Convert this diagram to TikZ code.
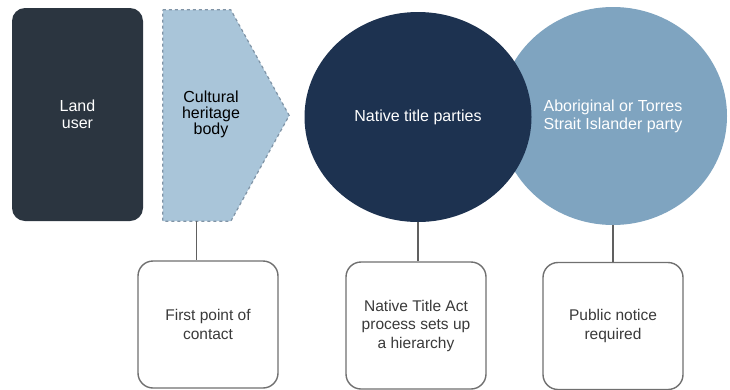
\documentclass[tikz,border=0pt]{standalone}
\usepackage{fontspec}
\setmainfont{Liberation Sans}
\usetikzlibrary{shapes.geometric}
\definecolor{landcol}{HTML}{2B3540}
\definecolor{chfill}{HTML}{A9C5D9}
\definecolor{chline}{HTML}{8094A6}
\definecolor{ntcol}{HTML}{1D3250}
\definecolor{atcol}{HTML}{7FA4C0}
\definecolor{boxline}{HTML}{707070}
\definecolor{boxtext}{HTML}{3A3A3A}
\definecolor{linkcol}{HTML}{606060}
\tikzset{
  landbox/.style={draw=none, fill=landcol, rounded corners=13pt, text=white,
    minimum width=131pt, minimum height=213pt, align=center, inner sep=0pt,
    font=\fontsize{16}{17.5}\selectfont},
  chshape/.style={fill=chfill, draw=chline, dashed, line width=1.2pt},
  chtext/.style={text=black, align=center, inner sep=0pt,
    font=\fontsize{16}{16}\selectfont},
  ntcircle/.style={ellipse, fill=ntcol, draw=none, text=white, inner sep=0pt,
    minimum width=227pt, minimum height=210pt, align=center,
    font=\fontsize{16}{18}\selectfont},
  atcircle/.style={ellipse, fill=atcol, draw=none, text=white, inner sep=0pt,
    minimum width=228pt, minimum height=218pt, align=center,
    font=\fontsize{16}{18}\selectfont},
  infobox/.style={draw=boxline, line width=1.4pt, fill=white, rounded corners=15pt,
    minimum width=140pt, minimum height=127pt, text=boxtext, align=center,
    inner sep=0pt, font=\fontsize{15.5}{18.5}\selectfont},
  link/.style={draw=linkcol, line width=1.3pt},
  ghost/.style={draw=none, inner sep=0pt, minimum width=126pt, minimum height=211pt}
}
\begin{document}
\begin{tikzpicture}[x=1pt,y=-1pt]
\useasboundingbox (0,0) rectangle (730,389);
\fill[white] (0,0) rectangle (730,389);
% Land user
\node[landbox] (land) at (77.5,114.5) {Land\\user};
% Cultural heritage body
\node[ghost] (cb) at (226,115.5) {};
\path[chshape] (cb.north west) -- ([xshift=68pt]cb.north west) -- (cb.east)
  -- ([xshift=68pt]cb.south west) -- (cb.south west) -- cycle;
\node[chtext] (cbt) at (211,114) {Cultural\\heritage\\body};
\coordinate (cbbot) at ([xshift=34pt]cb.south west);
% circles
\node[atcircle] (at) at (613,116) {Aboriginal or Torres\\Strait Islander party};
\node[ntcircle] (nt) at (418,117) {Native title parties};
% bottom boxes
\node[infobox] (b1) at (208,324.5) {First point of\\contact};
\node[infobox] (b2) at (416,325.5) {Native Title Act\\process sets up\\a hierarchy};
\node[infobox] (b3) at (613,326) {Public notice\\required};
% connectors
\draw[link] (cbbot) -- (cbbot |- b1.north);
\draw[link] (nt.south) -- (nt.south |- b2.north);
\draw[link] (at.south) -- (at.south |- b3.north);
\end{tikzpicture}
\end{document}
